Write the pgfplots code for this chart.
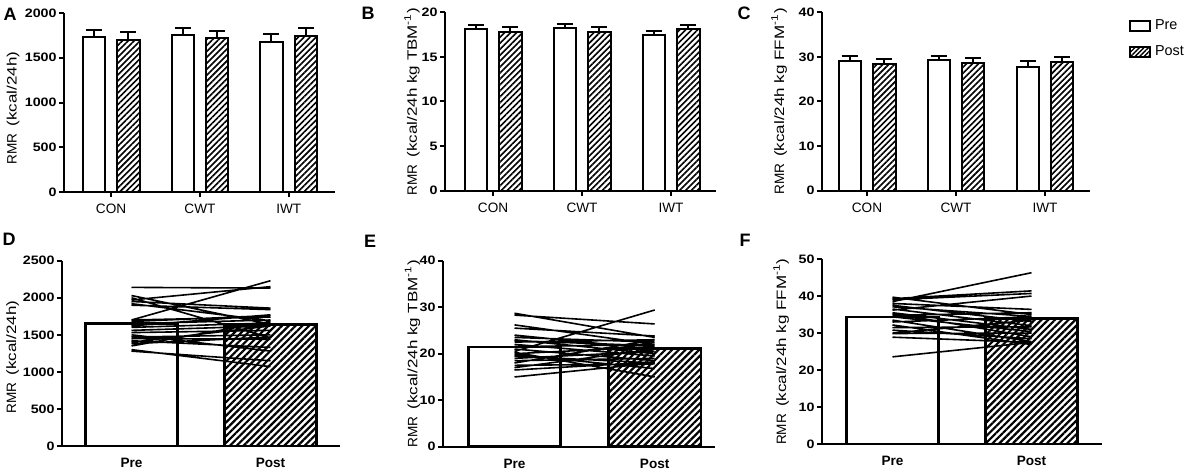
\documentclass[border=0pt]{standalone}
\usepackage{fontspec}
\setmainfont{Liberation Sans}
\newfontfamily\widef[FakeStretch=1.25]{Liberation Sans}
\newfontfamily\tickf[FakeStretch=1.17]{Liberation Sans}
\usepackage{pgfplots}
\pgfplotsset{compat=1.18}
\usetikzlibrary{patterns.meta}

\newcommand{\RMR}[1]{RMR\hspace{3.5pt}{\widef(kcal/24h#1)}}

\pgfplotsset{
 prism/.style={
  scale only axis, axis x line*=bottom, axis y line*=left,
  axis line style={line width=1pt, black},
  tick style={black, line width=1pt},
  tick align=outside, major tick length=2.5pt,
  ymin=0,
  /pgf/number format/1000 sep={},
  /pgf/number format/assume math mode=true,
  yticklabel style={font=\tickf\fontsize{6.1}{7}\selectfont\bfseries, inner sep=1pt},
  xticklabel style={font=\fontsize{6.8}{8}\selectfont},
  ylabel style={font=\fontsize{6.8}{8}\selectfont, anchor=center},
 },
 topp/.style={prism, xtick={0,1,2}, xticklabels={CON,CWT,IWT}},
 botp/.style={prism, xtick={0,1}, xticklabels={Pre,Post}, xtick style={draw=none},
   xticklabel style={font=\fontsize{6.8}{8}\selectfont\bfseries}},
 prebar/.style={ybar, bar width=0.25, bar shift=0pt, draw=black, line width=1pt, fill=white,
   error bars/y dir=plus, error bars/y explicit,
   error bars/error bar style={line width=1pt, black},
   error bars/error mark options={rotate=90, line width=1pt, black, mark size=4pt}},
 postbar/.style={ybar, bar width=0.25, bar shift=0pt, draw=black, line width=1pt,
   pattern={Lines[angle=45,distance=2.1pt,line width=0.8pt]},
   error bars/y dir=plus, error bars/y explicit,
   error bars/error bar style={line width=1pt, black},
   error bars/error mark options={rotate=90, line width=1pt, black, mark size=4pt}},
 bigpre/.style={ybar, bar width=0.66, bar shift=0pt, draw=black, line width=1.3pt, fill=white},
 bigpost/.style={ybar, bar width=0.66, bar shift=0pt, draw=black, line width=1.3pt,
   pattern={Lines[angle=45,distance=2.4pt,line width=1.1pt]}},
 spag/.style={black, line width=0.8pt, unbounded coords=jump, mark=none},
}

\begin{document}
\begin{tikzpicture}[x=1pt,y=1pt]
\path[use as bounding box] (0,0) rectangle (597,236);

% ---------- A ----------
\begin{axis}[topp, at={(32pt,140pt)}, anchor=south west, width=135.5pt, height=89.5pt,
  xmin=-0.53, xmax=2.52, ymax=2000, ytick={0,500,...,2000},
  ylabel={\RMR{}}, ylabel style={at={(axis description cs:-0.188,0.47)}}]
\addplot[prebar] coordinates {(-0.195,1732) +- (0,78) (0.805,1757) +- (0,75) (1.805,1679) +- (0,86)};
\addplot[postbar] coordinates {(0.195,1698) +- (0,86) (1.195,1724) +- (0,78) (2.195,1743) +- (0,89)};
\end{axis}

% ---------- B ----------
\begin{axis}[topp, at={(222.5pt,140.65pt)}, anchor=south west, width=135.5pt, height=89.2pt,
  xmin=-0.54, xmax=2.505, ymax=20, ytick={0,5,...,20},
  ylabel={\RMR{ kg TBM\textsuperscript{-1}}}, ylabel style={at={(axis description cs:-0.122,0.5)}}]
\addplot[prebar] coordinates {(-0.195,18.1) +- (0,0.5) (0.805,18.2) +- (0,0.45) (1.805,17.5) +- (0,0.45)};
\addplot[postbar] coordinates {(0.195,17.8) +- (0,0.5) (1.195,17.8) +- (0,0.6) (2.195,18.1) +- (0,0.5)};
\end{axis}

% ---------- C ----------
\begin{axis}[topp, at={(411pt,140.65pt)}, anchor=south west, width=134pt, height=89.2pt,
  xmin=-0.506, xmax=2.506, ymax=40, ytick={0,10,...,40},
  ylabel={\RMR{ kg FFM\textsuperscript{-1}}}, ylabel style={at={(axis description cs:-0.16,0.5)}},
  legend style={at={(axis description cs:1.145,0.985)}, anchor=north west, draw=none, fill=none,
    font=\fontsize{7.2}{8}\selectfont, row sep=2.6pt, inner sep=0pt},
  legend cell align=left]
\addplot[prebar, forget plot] coordinates {(-0.195,29.0) +- (0,1.1) (0.805,29.2) +- (0,1.0) (1.805,27.8) +- (0,1.2)};
\addplot[postbar, forget plot] coordinates {(0.195,28.3) +- (0,1.2) (1.195,28.7) +- (0,1.0) (2.195,28.9) +- (0,1.0)};
\addlegendimage{legend image code/.code={\draw[draw=black, line width=0.9pt, fill=white] (0pt,-2.5pt) rectangle (10pt,2.5pt);}}
\addlegendentry{Pre}
\addlegendimage{legend image code/.code={\draw[draw=black, line width=0.9pt, pattern={Lines[angle=45,distance=1.6pt,line width=0.7pt]}] (0pt,-2.5pt) rectangle (10pt,2.5pt);}}
\addlegendentry{Post}
\end{axis}

% ---------- D ----------
\begin{axis}[botp, at={(31pt,13pt)}, anchor=south west, width=139pt, height=92.65pt,
  xmin=-0.5, xmax=1.5, ymax=2500, ytick={0,500,...,2500},
  ylabel={\RMR{}}, ylabel style={at={(axis description cs:-0.178,0.48)}}]
\addplot[bigpre] coordinates {(0,1655)};
\addplot[bigpost] coordinates {(1,1642)};
\addplot[spag] table {
x y
0 2140
1 2130
0.5 nan
0 2030
1 1640
0.5 nan
0 2000
1 1460
0.5 nan
0 1970
1 2150
0.5 nan
0 1950
1 1860
0.5 nan
0 1920
1 1690
0.5 nan
0 1900
1 1840
0.5 nan
0 1700
1 2230
0.5 nan
0 1680
1 1760
0.5 nan
0 1650
1 1700
0.5 nan
0 1600
1 1660
0.5 nan
0 1560
1 1620
0.5 nan
0 1530
1 1560
0.5 nan
0 1500
1 1280
0.5 nan
0 1470
1 1500
0.5 nan
0 1450
1 1440
0.5 nan
0 1420
1 1330
0.5 nan
0 1400
1 1620
0.5 nan
0 1380
1 1470
0.5 nan
0 1350
1 1680
0.5 nan
0 1300
1 1070
0.5 nan
0 1280
1 1150
0.5 nan
0 1700
1 1740
0.5 nan
0 1620
1 1770
};
\end{axis}

% ---------- E ----------
\begin{axis}[botp, at={(221.5pt,12.65pt)}, anchor=south west, width=136pt, height=93pt,
  xmin=-0.51, xmax=1.43, ymax=40, ytick={0,10,...,40},
  ylabel={\RMR{ kg TBM\textsuperscript{-1}}}, ylabel style={at={(axis description cs:-0.112,0.5)}}]
\addplot[bigpre] coordinates {(0,21.4)};
\addplot[bigpost] coordinates {(1,21.1)};
\addplot[spag] table {
x y
0 28.7
1 23.5
0.5 nan
0 28.3
1 26.4
0.5 nan
0 26.2
1 22.0
0.5 nan
0 25.5
1 23.8
0.5 nan
0 24.0
1 21.0
0.5 nan
0 23.5
1 22.5
0.5 nan
0 23.0
1 20.0
0.5 nan
0 22.5
1 23.0
0.5 nan
0 22.0
1 19.5
0.5 nan
0 21.5
1 22.0
0.5 nan
0 21.0
1 18.5
0.5 nan
0 20.5
1 29.4
0.5 nan
0 20.0
1 21.5
0.5 nan
0 19.5
1 18.0
0.5 nan
0 19.0
1 20.5
0.5 nan
0 18.5
1 19.0
0.5 nan
0 18.0
1 23.0
0.5 nan
0 17.5
1 17.8
0.5 nan
0 17.0
1 21.0
0.5 nan
0 16.5
1 18.2
0.5 nan
0 15.0
1 18.0
0.5 nan
0 20.3
1 15.0
0.5 nan
0 19.8
1 16.8
0.5 nan
0 22.8
1 21.7
};
\end{axis}

% ---------- F ----------
\begin{axis}[botp, at={(411pt,13.85pt)}, anchor=south west, width=140pt, height=92.65pt,
  xmin=-0.507, xmax=1.507, ymax=50, ytick={0,10,...,50},
  ylabel={\RMR{ kg FFM\textsuperscript{-1}}}, ylabel style={at={(axis description cs:-0.146,0.5)}}]
\addplot[bigpre] coordinates {(0,34.4)};
\addplot[bigpost] coordinates {(1,34.0)};
\addplot[spag] table {
x y
0 39.7
1 35.0
0.5 nan
0 39.3
1 41.4
0.5 nan
0 39.0
1 40.7
0.5 nan
0 38.5
1 46.3
0.5 nan
0 38.0
1 36.4
0.5 nan
0 37.5
1 33.1
0.5 nan
0 37.1
1 34.5
0.5 nan
0 36.5
1 32.0
0.5 nan
0 36.2
1 40.0
0.5 nan
0 35.5
1 31.0
0.5 nan
0 35.3
1 29.0
0.5 nan
0 34.8
1 35.5
0.5 nan
0 34.4
1 30.4
0.5 nan
0 33.5
1 27.7
0.5 nan
0 33.0
1 34.4
0.5 nan
0 32.2
1 26.9
0.5 nan
0 31.5
1 31.7
0.5 nan
0 30.8
1 28.5
0.5 nan
0 30.0
1 33.5
0.5 nan
0 29.9
1 30.0
0.5 nan
0 28.9
1 27.5
0.5 nan
0 23.6
1 27.5
};
\end{axis}

% panel letters
\node[font=\fontsize{9}{10}\selectfont\bfseries] at (5,229) {A};
\node[font=\fontsize{9}{10}\selectfont\bfseries] at (184,229.5) {B};
\node[font=\fontsize{9}{10}\selectfont\bfseries] at (372,229.5) {C};
\node[font=\fontsize{9}{10}\selectfont\bfseries] at (4.5,116.5) {D};
\node[font=\fontsize{9}{10}\selectfont\bfseries] at (185,115.5) {E};
\node[font=\fontsize{9}{10}\selectfont\bfseries] at (372.5,116) {F};
\end{tikzpicture}
\end{document}
